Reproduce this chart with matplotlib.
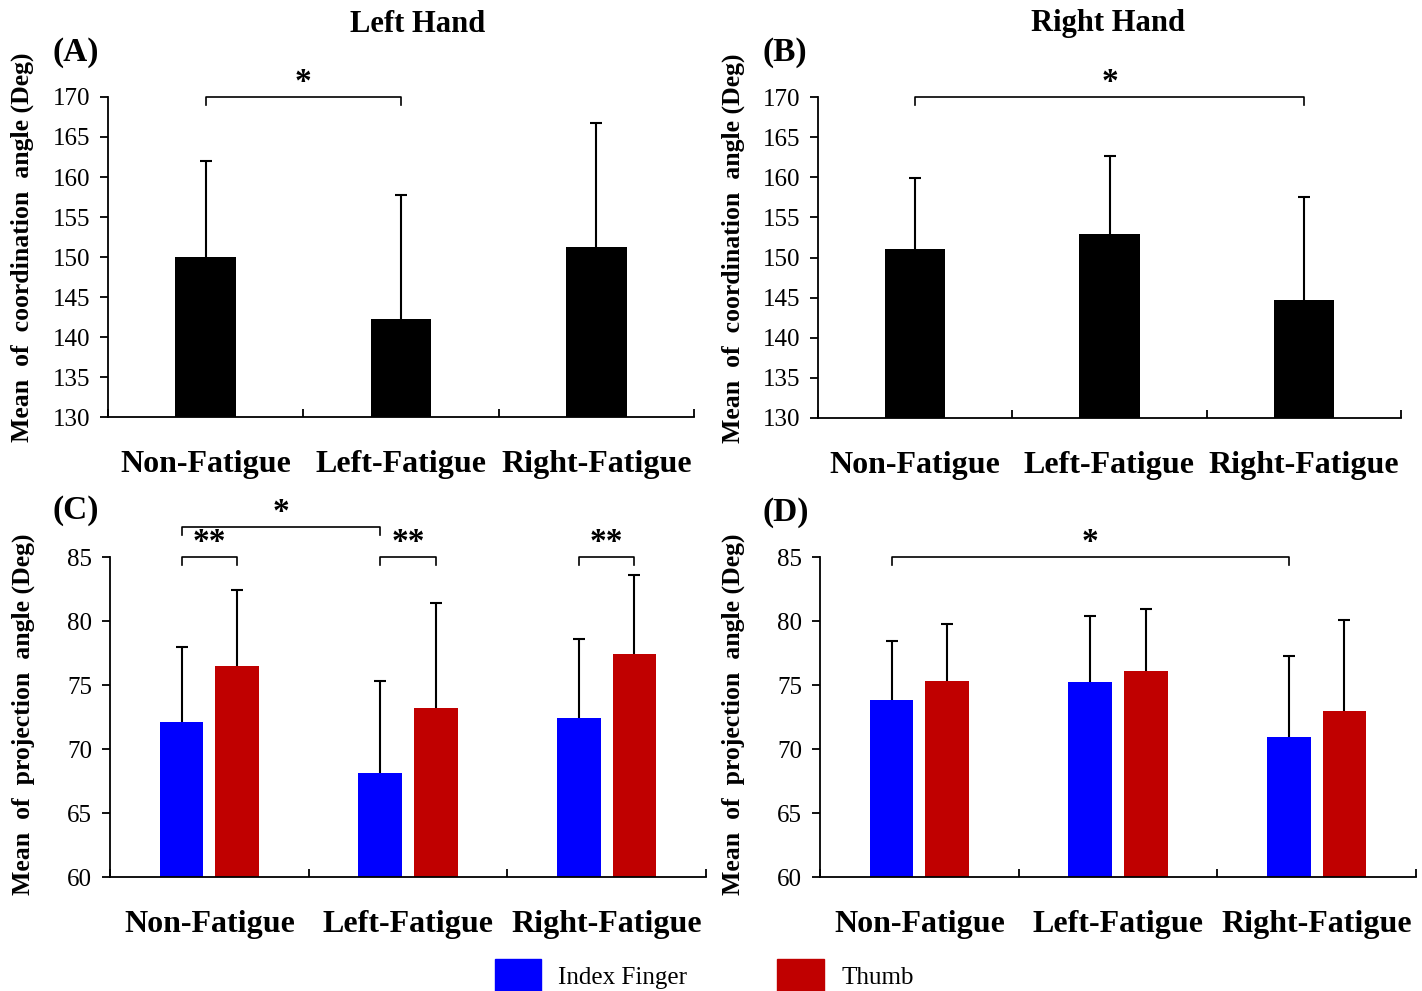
import matplotlib
matplotlib.use('Agg')
import matplotlib.pyplot as plt
from matplotlib.patches import Patch
import numpy as np

plt.rcParams['font.family'] = ['Liberation Serif', 'DejaVu Serif']

categories = ['Non-Fatigue', 'Left-Fatigue', 'Right-Fatigue']

# coordination angle (deg), mean and upper SD
left_coord = [150.0, 142.2, 151.2]
left_coord_sd = [12.0, 15.6, 15.6]
right_coord = [151.1, 152.9, 144.7]
right_coord_sd = [8.8, 9.8, 12.8]

# projection angle (deg), index finger / thumb
left_index = [72.1, 68.1, 72.4]
left_index_sd = [5.9, 7.2, 6.2]
left_thumb = [76.5, 73.2, 77.4]
left_thumb_sd = [5.9, 8.2, 6.2]
right_index = [73.8, 75.2, 70.9]
right_index_sd = [4.6, 5.2, 6.4]
right_thumb = [75.3, 76.1, 73.0]
right_thumb_sd = [4.5, 4.8, 7.1]

coord_ticks = [130, 135, 140, 145, 150, 155, 160, 165, 170]
proj_ticks = [60, 65, 70, 75, 80, 85]

BLUE = '#0000ff'
RED = '#c00000'
OFF = 0.14
W2 = 0.22

fig = plt.figure(figsize=(14.22, 9.91), dpi=100)
W, H = 1422, 991


def px_axes(left, right, top, bottom):
    return fig.add_axes([left / W, 1 - bottom / H, (right - left) / W, (bottom - top) / H])


def style(ax, ticks, ylabel, label_y):
    x = np.arange(len(categories))
    ax.set_xlim(-0.5, len(categories) - 0.5)
    ax.set_ylim(ticks[0], ticks[-1])
    ax.set_yticks(ticks)
    ax.set_yticklabels([str(t) for t in ticks])
    ax.spines['top'].set_visible(False)
    ax.spines['right'].set_visible(False)
    for s in ('left', 'bottom'):
        ax.spines[s].set_linewidth(1.3)
    ax.set_xticks(np.arange(len(categories) + 1) - 0.5)
    ax.set_xticklabels([])
    ax.tick_params(axis='x', which='major', direction='in', length=6, width=1.3)
    ax.set_xticks(x, categories, minor=True)
    ax.tick_params(axis='x', which='minor', length=0, pad=24, labelsize=23)
    for lab in ax.get_xticklabels(minor=True):
        lab.set_fontweight('bold')
    ax.tick_params(axis='y', direction='out', length=6, width=1.3, labelsize=18, pad=7)
    ax.set_ylabel(ylabel, fontsize=18.5, fontweight='bold')
    ax.yaxis.set_label_coords(-0.126, label_y)


def bars(ax, xs, vals, sds, base, width, color):
    vals = np.array(vals)
    sds = np.array(sds)
    ax.bar(xs, vals - base, bottom=base, width=width, color=color)
    ax.vlines(xs, vals, vals + sds, color='black', lw=1.5)
    ax.plot(xs, vals + sds, ls='none', marker='_', ms=8, mew=1.5, color='black')


def bracket(ax, x1, x2, y, drop, text, fs=24):
    ax.plot([x1, x1, x2, x2], [y - drop, y, y, y - drop], color='black', lw=1.2, clip_on=False)
    ax.text((x1 + x2) / 2, y - drop * 0.15, text, ha='center', va='bottom', fontsize=fs,
            fontweight='bold', clip_on=False)


x = np.arange(len(categories))

# (A)
axA = px_axes(108, 694, 97, 417)
bars(axA, x, left_coord, left_coord_sd, 130, 0.31, 'black')
style(axA, coord_ticks, 'Mean  of  coordination  angle (Deg)', 0.53)
bracket(axA, 0, 1, 170, 1.0, '*')

# (B)
axB = px_axes(818, 1401, 97, 418)
bars(axB, x, right_coord, right_coord_sd, 130, 0.31, 'black')
style(axB, coord_ticks, 'Mean  of  coordination  angle (Deg)', 0.53)
bracket(axB, 0, 2, 170, 1.0, '*')

# (C)
axC = px_axes(110, 706, 557, 877)
bars(axC, x - OFF, left_index, left_index_sd, 60, W2, BLUE)
bars(axC, x + OFF, left_thumb, left_thumb_sd, 60, W2, RED)
style(axC, proj_ticks, 'Mean  of  projection  angle (Deg)', 0.51)
for i in range(3):
    bracket(axC, i - OFF, i + OFF, 85, 0.65, '**')
bracket(axC, 0 - OFF, 1 - OFF, 87.35, 0.65, '*')

# (D)
axD = px_axes(820, 1416, 557, 877)
bars(axD, x - OFF, right_index, right_index_sd, 60, W2, BLUE)
bars(axD, x + OFF, right_thumb, right_thumb_sd, 60, W2, RED)
style(axD, proj_ticks, 'Mean  of  projection  angle (Deg)', 0.51)
bracket(axD, 0 - OFF, 2 - OFF, 85, 0.65, '*')

fig.text(418 / W, 1 - 24 / H, 'Left Hand', ha='center', va='center', fontsize=22, fontweight='bold')
fig.text(1108 / W, 1 - 24 / H, 'Right Hand', ha='center', va='center', fontsize=22, fontweight='bold')
for lab, px, py in [('(A)', 52, 52), ('(B)', 762, 52), ('(C)', 52, 510), ('(D)', 762, 512)]:
    fig.text(px / W, 1 - py / H, lab, ha='left', va='center', fontsize=24, fontweight='bold')

handles = [Patch(color=BLUE, label='Index Finger'), Patch(color=RED, label='Thumb')]
fig.legend(handles=handles, loc='center', bbox_to_anchor=(704 / W, 1 - 976 / H), ncol=2,
           frameon=False, fontsize=18, handlelength=1.85, handleheight=1.7,
           handletextpad=0.7, columnspacing=3.6)

fig.savefig('out.png', dpi=100)
